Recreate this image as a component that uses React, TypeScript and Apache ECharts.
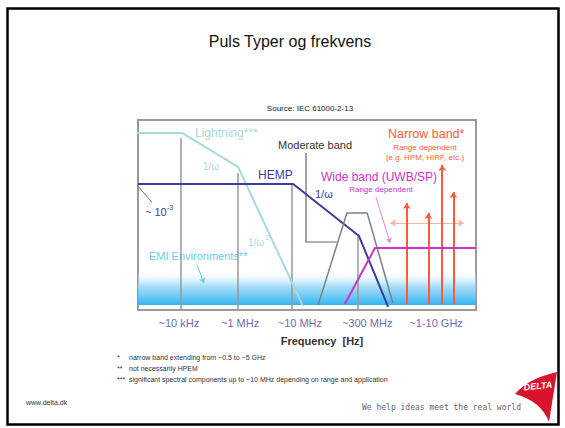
import React, { useEffect, useRef } from "react";
import * as echarts from "echarts";

// Schematic coordinates: x = relative position along the (log) frequency axis, 0-100
// y = relative spectral level, 0-100
const tickLabels = ["~10 kHz", "~1 MHz", "~10 MHz", "~300 MHz", "~1-10 GHz"];
const tickValues = [12.1, 30.2, 47.9, 67.8, 88.2];

const lightning = [[-0.9, 93.2], [13.0, 93.2], [29.6, 75.3], [48.8, 2.1]];
const hemp = [[0, 66.3], [45.9, 66.3], [65.4, 38.9], [74.0, 1.6]];
const moderateBand = [[53.3, 2.6], [61.8, 51.1], [67.8, 51.1], [75.4, 3.7]];
const wideBand = [[61.2, 3.2], [70.1, 32.6], [100, 32.6]];
const narrowX = [79.5, 85.9, 90.0, 93.3];
const narrowTop = [56.3, 51.1, 76.3, 62.1];
const narrowBase = 3.2;
const narrowSpread = [[74.6, 45.8], [96.4, 45.8]];
const guideX = [12.7, 29.5, 45.5, 65.0];
const guideTop = [90.5, 72.1, 65.8, 38.9];
const moderatePointer = [[49.7, 82.6], [49.7, 35.8], [58.8, 35.8]];
const widePointer = [[70.4, 59.5], [74.6, 35.3]];
const emiPointer = [[17.5, 23.7], [19.5, 14.2]];
const hempLevelPointer = [[-0.3, 65.8], [4.1, 56.8]];
const emiBand = [2.6, 21];

const footMarks = ["*", "**", "***"];
const footTexts = [
  "narrow band extending from ~0.5 to ~5 GHz",
  "not necessarily HPEM",
  "significant spectral components up to ~10 MHz depending on range and application",
];

const FONT = "'Liberation Sans', Arial, sans-serif";
const logoPath = "M2 24 Q16 8 44 2 L36 52 Q28 31 2 24 Z";

function txt(x: number, y: number, text: string, size: number, fill: string, align = "left", weight = "normal", family = FONT) {
  return {
    type: "text",
    x,
    y,
    silent: true,
    style: {
      text,
      fill,
      font: `${weight} ${size}px ${family}`,
      textAlign: align,
      textVerticalAlign: "middle",
    },
  };
}

export default function App() {
  const ref = useRef<HTMLDivElement>(null);
  useEffect(() => {
    document.body.style.margin = "0";
    echarts.graphic.registerShape("logo", echarts.graphic.extendPath(logoPath, {}));
    const chart = echarts.init(ref.current!, null, { renderer: "svg" });

    const lightC = "#a8d9dc";
    const hempC = "#3d3d9e";
    const wideC = "#cc33cc";
    const narrowC = "#ff5a3c";

    const option: any = {
      animation: false,
      grid: {
        left: 138,
        top: 120,
        width: 338,
        height: 190,
        show: true,
        borderColor: "#9a9a9a",
        borderWidth: 2,
        backgroundColor: "transparent",
      },
      xAxis: {
        type: "value",
        min: 0,
        max: 100,
        axisLine: { show: false },
        axisTick: { show: false },
        splitLine: { show: false },
        axisLabel: {
          customValues: tickValues,
          margin: 7,
          color: "#6d6db5",
          fontSize: 11,
          fontFamily: FONT,
          formatter: (v: number) => {
            let best = 0;
            for (let i = 0; i < tickValues.length; i++) {
              if (Math.abs(tickValues[i] - v) < Math.abs(tickValues[best] - v)) best = i;
            }
            return tickLabels[best];
          },
        },
      },
      yAxis: {
        type: "value",
        min: 0,
        max: 100,
        show: false,
      },
      series: [
        {
          type: "line",
          name: "EMI band",
          data: [],
          silent: true,
          markArea: {
            silent: true,
            itemStyle: {
              color: {
                type: "linear",
                x: 0,
                y: 0,
                x2: 0,
                y2: 1,
                colorStops: [
                  { offset: 0, color: "rgba(255,255,255,0)" },
                  { offset: 0.45, color: "rgba(150,215,248,0.8)" },
                  { offset: 1, color: "#30b5f2" },
                ],
              },
            },
            data: [[{ coord: [0, emiBand[1]] }, { coord: [100, emiBand[0]] }]],
          },
        },
        {
          type: "lines",
          name: "guides",
          coordinateSystem: "cartesian2d",
          silent: true,
          lineStyle: { color: "#999", width: 1.5, opacity: 1 },
          data: guideX.map((x, i) => ({ coords: [[x, guideTop[i]], [x, 0]] })),
        },
        {
          type: "line",
          name: "Lightning",
          data: lightning,
          symbol: "none",
          clip: false,
          lineStyle: { color: lightC, width: 2 },
        },
        {
          type: "line",
          name: "HEMP",
          data: hemp,
          symbol: "none",
          lineStyle: { color: hempC, width: 2 },
        },
        {
          type: "line",
          name: "Moderate band",
          data: moderateBand,
          symbol: "none",
          lineStyle: { color: "#808080", width: 1.5 },
        },
        {
          type: "line",
          name: "Wide band",
          data: wideBand,
          symbol: "none",
          lineStyle: { color: wideC, width: 2 },
        },
        {
          type: "lines",
          name: "spread",
          coordinateSystem: "cartesian2d",
          silent: true,
          symbol: ["arrow", "arrow"],
          symbolSize: 6,
          lineStyle: { color: "#ffb2a2", width: 1, opacity: 1 },
          data: [{ coords: narrowSpread }],
        },
        {
          type: "lines",
          name: "Narrow band",
          coordinateSystem: "cartesian2d",
          silent: true,
          symbol: ["none", "arrow"],
          symbolSize: 6,
          lineStyle: { color: narrowC, width: 2, opacity: 1 },
          data: narrowX.map((x, i) => ({ coords: [[x, narrowBase], [x, narrowTop[i]]] })),
        },
        {
          type: "lines",
          name: "moderate pointer",
          coordinateSystem: "cartesian2d",
          polyline: true,
          silent: true,
          symbol: ["none", "arrow"],
          symbolSize: 5,
          lineStyle: { color: "#666", width: 1.2, opacity: 1 },
          data: [{ coords: moderatePointer }],
        },
        {
          type: "lines",
          name: "pointers",
          coordinateSystem: "cartesian2d",
          silent: true,
          symbol: ["none", "arrow"],
          symbolSize: 5,
          lineStyle: { width: 1, opacity: 1 },
          data: [
            { coords: widePointer, lineStyle: { color: "#e089e0" } },
            { coords: emiPointer, lineStyle: { color: "#6cc8ee" } },
          ],
        },
        {
          type: "lines",
          name: "level pointer",
          coordinateSystem: "cartesian2d",
          silent: true,
          symbol: ["none", "none"],
          lineStyle: { color: "#777", width: 1, opacity: 1 },
          data: [{ coords: hempLevelPointer }],
        },
      ],
      graphic: [
        {
          type: "rect",
          silent: true,
          shape: { x: 7.5, y: 8.5, width: 551, height: 416 },
          style: { fill: "none", stroke: "#000", lineWidth: 2.5 },
          z: 100,
        },
        txt(290, 41, "Puls Typer og frekvens", 16, "#111", "center"),
        txt(310, 108, "Source: IEC 61000-2-13", 8, "#222", "center"),
        txt(195, 133, "Lightning***", 12, lightC),
        txt(203, 166, "1/ω", 10, lightC),
        txt(248, 242, "1/ω", 10, lightC),
        txt(265, 237, "2", 7, lightC),
        txt(278, 145, "Moderate band", 11, "#333"),
        txt(258, 175, "HEMP", 12, hempC),
        txt(315, 194, "1/ω", 11, hempC),
        txt(145, 212, "~ 10", 11, hempC),
        txt(167, 207, "-3", 7, hempC),
        txt(321, 177, "Wide band (UWB/SP)", 12, wideC),
        txt(381, 189, "Range dependent", 8, wideC, "center"),
        txt(388, 134, "Narrow band*", 12.5, narrowC),
        txt(425, 147, "Range dependent", 8, narrowC, "center"),
        txt(425, 157, "(e.g. HPM, HIRF, etc.)", 8, narrowC, "center"),
        txt(149, 256, "EMI Environments**", 11, "#66ccf0"),
        txt(322, 341, "Frequency  [Hz]", 11, "#333", "center", "bold"),
        ...footMarks.map((m, i) => txt(117, 357 + i * 11, m, 7, "#333")),
        ...footTexts.map((t, i) => txt(129, 357 + i * 11, t, 7, "#333")),
        txt(26, 402, "www.delta.dk", 7, "#333"),
        txt(362, 407, "We help ideas meet the real world", 8, "#666", "left", "normal", "'DejaVu Sans Mono', monospace"),
        {
          type: "logo",
          x: 513,
          y: 370,
          scaleX: 1,
          scaleY: 1,
          silent: true,
          style: { fill: "#d8142c" },
        },
        {
          type: "text",
          x: 538,
          y: 386,
          rotation: 0.1,
          silent: true,
          style: {
            text: "DELTA",
            fill: "#fff",
            font: `italic bold 9px ${FONT}`,
            textAlign: "center",
            textVerticalAlign: "middle",
          },
        },
      ],
    };
    chart.setOption(option);
    return () => chart.dispose();
  }, []);
  return <div ref={ref} style={{ width: 565, height: 428, position: "absolute", left: 0, top: 0 }} />;
}
